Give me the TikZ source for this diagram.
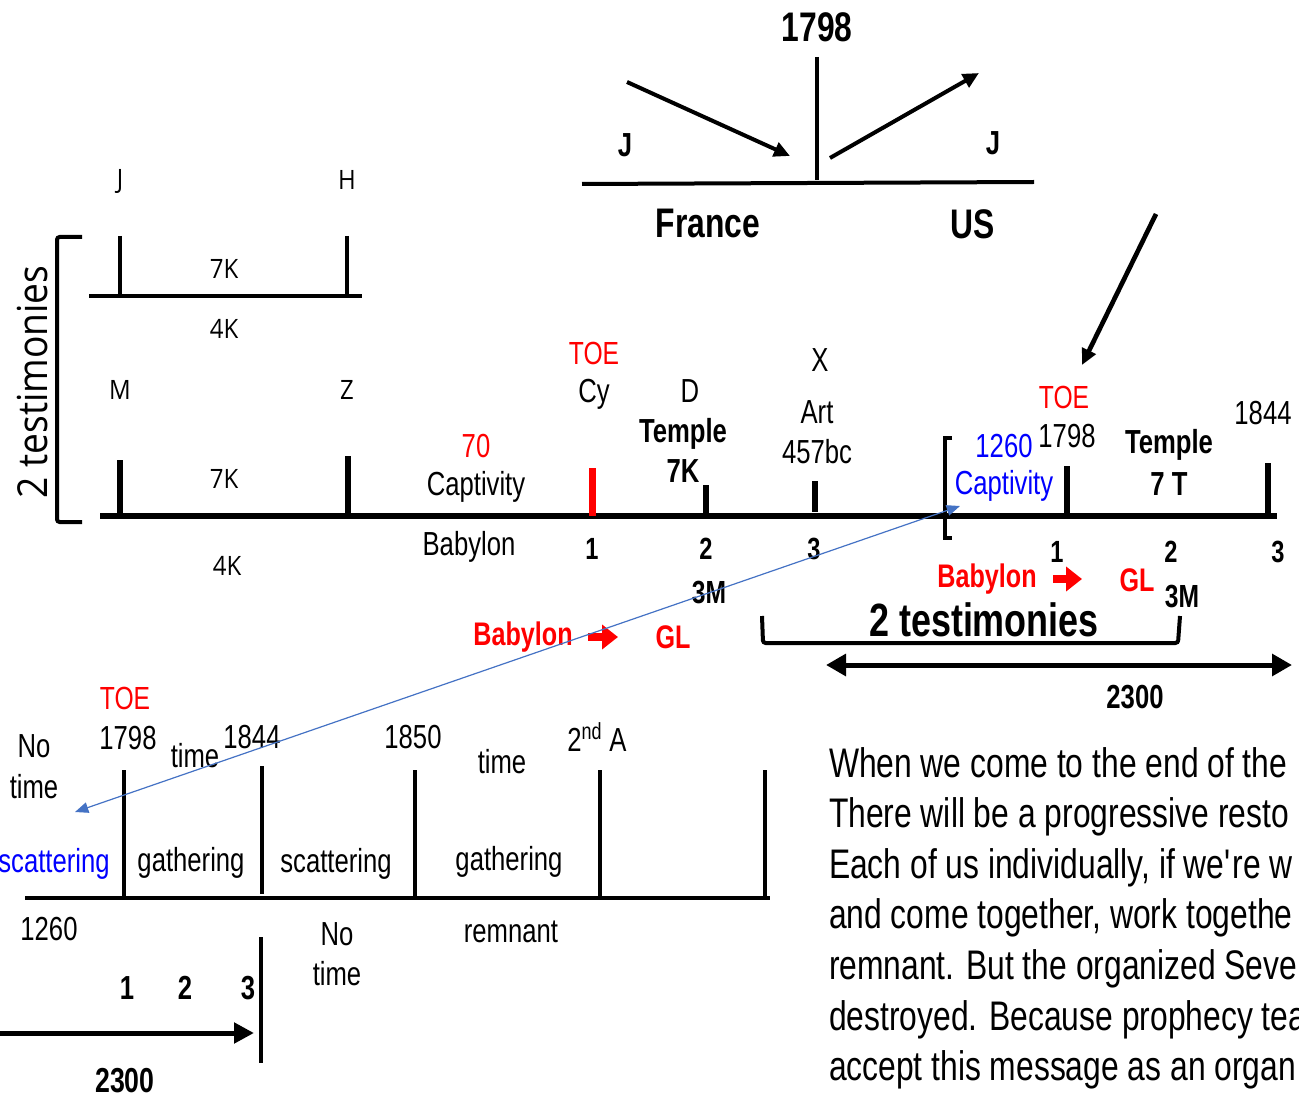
\documentclass[tikz,border=0pt]{standalone}
\usepackage{fontspec}
\setmainfont{Liberation Sans}[FakeStretch=0.77]
\newfontfamily\osans{Open Sans}[FakeStretch=0.9]
\usetikzlibrary{arrows.meta}
\definecolor{flecha}{HTML}{4472C4}

\begin{document}
\begin{tikzpicture}[x=0.75pt, y=-0.75pt, line width=3pt,
  lbl/.style={inner sep=0pt, font=\fontsize{#1}{#1}\selectfont}, lbl/.default=25,
  bld/.style={inner sep=0pt, font=\fontsize{#1}{#1}\selectfont\bfseries}, bld/.default=23,
  rojo/.style={bld=#1, text=red}, rojo/.default=24.5,
  izq/.style={inner sep=0pt, font=\osans\fontsize{#1}{#1}\selectfont}, izq/.default=20,
  punta/.style={-{Triangle[length=12pt,width=11pt]}},
  flechaRoja/.style={red, line width=6pt, -{Triangle[length=12pt,width=18pt]}}]
  \useasboundingbox (0,0) rectangle (1299,1105);
  \clip (0,0) rectangle (1299,1105);

  % 1798: France y US
  \node[bld=31] (a1798) at (817,27) {1798};
  \draw (817,57) -- (817,180);
  \draw (582,184) -- (1034,182);
  \coordinate (jA) at (627,82);
  \coordinate (jB) at (790,156);
  \coordinate (jC) at (830,158);
  \coordinate (jD) at (979,73);
  \draw[punta] (jA) -- (jB);
  \draw[punta] (jC) -- (jD);
  \node[bld=25] (jizq) at (625,145) {J};
  \node[bld=25] (jder) at (993,143) {J};
  \node[bld=31] (francia) at (708,223) {France};
  \node[bld=31] (us) at (973,224) {US};
  \coordinate (bajaA) at (1156,214);
  \coordinate (bajaB) at (1082,365);
  \draw[punta, line width=3.5pt] (bajaA) -- (bajaB);

  % bloque izquierdo: 7K / 4K
  \draw (89,296) -- (362,296);
  \draw (120,236) -- (120,296) (347,236) -- (347,296);
  \node[izq] (kJ) at (120,181) {J};
  \node[izq] (kH) at (347,180) {H};
  \node[izq] (k7a) at (224,269) {7K};
  \node[izq] (k4a) at (224,329) {4K};
  \node[izq] (kM) at (120,390) {M};
  \node[izq] (kZ) at (347,390) {Z};
  \node[izq] (k7b) at (224,479) {7K};
  \node[izq] (k4b) at (227,566) {4K};
  \draw[rounded corners=2pt] (82,237) -- (57,237) -- (57,522) -- (82,522);
  \node[izq=31, rotate=90] (dosT) at (33,382) {2 testimonies};

  % linea principal
  \draw[line width=4pt] (100,516) -- (1277,516);
  \foreach \x/\ya in {120/460, 348/456, 706/485, 1067/466}
    \draw[line width=4pt] (\x,\ya) -- (\x,516);
  \draw[line width=4pt] (815,481) -- (815,512);
  \draw[line width=4pt] (1268,463) -- (1268,513);
  \draw[red, line width=5.25pt] (592,468) -- (592,516);
  \draw (952,438) -- (945,438) -- (945,538) -- (952,538);

  \node[lbl, text=red] (setenta) at (476,446) {70};
  \node[lbl] (capt) at (476,487) {Captivity};
  \node[lbl] (babA) at (469,547) {Babylon};
  \node[lbl=24, text=red] (toeA) at (594,353) {TOE};
  \node[lbl] (cy) at (594,394) {Cy};
  \node[bld] (uno) at (592,549) {1};
  \node[lbl] (dD) at (690,391) {D};
  \node[bld=25] (templA) at (683,434) {Temple};
  \node[bld=25] (sieteK) at (683,471) {7K};
  \node[lbl] (xX) at (820,360) {X};
  \node[lbl] (art) at (817,412) {Art};
  \node[lbl] (bc) at (817,452) {457bc};
  \node[bld] (dos) at (706,549) {2};
  \node[bld] (tres) at (814,549) {3};
  \node[bld=24] (tresM) at (709,593) {3M};
  \node[lbl, text=blue] (d1260) at (1004,446) {1260};
  \node[lbl, text=blue] (captB) at (1004,486) {Captivity};
  \node[lbl=24, text=red] (toeB) at (1064,397) {TOE};
  \node[lbl] (d1798) at (1067,436) {1798};
  \node[bld=25] (templB) at (1169,445) {Temple};
  \node[bld=25] (sieteT) at (1169,484) {7 T};
  \node[lbl] (d1844) at (1263,413) {1844};
  \node[bld] (unoB) at (1057,552) {1};
  \node[bld] (dosB) at (1171,552) {2};
  \node[bld] (tresB) at (1278,552) {3};

  % Babylon -> GL
  \node[rojo] (babB) at (987,579) {Babylon};
  \coordinate (rA) at (1053,579);
  \coordinate (rB) at (1082,579);
  \draw[flechaRoja] (rA) -- (rB);
  \node[rojo] (glB) at (1137,580) {GL};
  \node[bld=24] (tresMB) at (1182,597) {3M};
  \node[rojo] (babC) at (523,637) {Babylon};
  \coordinate (rC) at (588,637);
  \coordinate (rD) at (618,637);
  \draw[flechaRoja] (rC) -- (rD);
  \node[rojo] (glC) at (673,637) {GL};

  % 2 testimonies y 2300
  \node[bld=35] (dosTB) at (984,620) {2 testimonies};
  \draw[rounded corners=2pt] (762,616) -- (763,643) -- (1178,643) -- (1180,616);
  \coordinate (dA) at (826,665);
  \coordinate (dB) at (1292,665);
  \draw[line width=3.75pt, {Triangle[length=15pt,width=16pt]}-{Triangle[length=15pt,width=16pt]}] (dA) -- (dB);
  \node[bld=25] (d2300) at (1135,697) {2300};

  % linea inferior
  \draw (25,898) -- (770,898);
  \foreach \x/\ya/\yb in {124/770/898, 262/766/894, 415/770/898, 600/770/898, 765/770/898}
    \draw (\x,\ya) -- (\x,\yb);
  \node[lbl=24, text=red] (toeC) at (125,698) {TOE};
  \node[lbl] (e1798) at (128,738) {1798};
  \node[lbl] (noA) at (34,746) {No};
  \node[lbl] (timeA) at (34,787) {time};
  \node[lbl] (timeB) at (195,756) {time};
  \node[lbl] (e1844) at (252,737) {1844};
  \node[lbl] (e1850) at (413,737) {1850};
  \node[lbl] (timeC) at (502,762) {time};
  \node[lbl] (segA) at (597,737) {2\textsuperscript{nd} A};
  \node[lbl, text=blue] (scatA) at (54,864) {scattering};
  \node[lbl] (gathA) at (191,863) {gathering};
  \node[lbl] (scatB) at (336,864) {scattering};
  \node[lbl] (gathB) at (509,862) {gathering};
  \node[lbl] (e1260) at (49,929) {1260};
  \node[lbl] (remn) at (511,932) {remnant};
  \node[lbl] (noB) at (337,934) {No};
  \node[lbl] (timeD) at (337,974) {time};
  \draw (261,937) -- (261,1063);
  \node[bld=25] (unoC) at (127,988) {1};
  \node[bld=25] (dosC) at (185,988) {2};
  \node[bld=25] (tresC) at (248,988) {3};
  \coordinate (fA) at (0,1033);
  \coordinate (fB) at (254,1033);
  \draw[line width=3.75pt, -{Triangle[length=15pt,width=15pt]}] (fA) -- (fB);
  \node[bld=26] (e2300) at (125,1081) {2300};

  % texto
  \foreach \linea [count=\k from 0] in {When we come to the end of the,
      There will be a progressive resto,
      {Each of us individually, if we\textquotesingle re w},
      {and come together, work togethe},
      remnant. But the organized Seve,
      destroyed. Because prophecy tea,
      accept this message as an organ}
    \node[lbl=31, anchor=base west] (p\k) at (827,{777+50.6*\k}) {\linea};

  % flecha azul entre 1260 y scattering
  \coordinate (azA) at (960,506);
  \coordinate (azB) at (75,812);
  \draw[flecha, line width=0.9pt, {Triangle[length=10pt,width=8pt]}-{Triangle[length=10pt,width=8pt]}] (azB) -- (azA);
\end{tikzpicture}
\end{document}
